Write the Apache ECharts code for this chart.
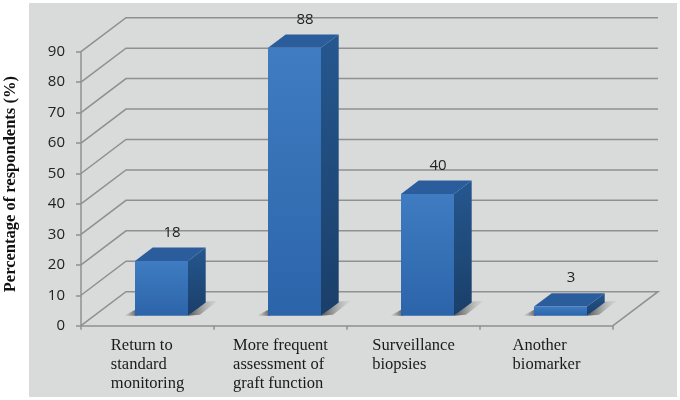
<!DOCTYPE html>
<html>
<head>
    <meta charset="UTF-8">
    <title>ECharts</title>
    <script src="https://cdn.jsdelivr.net/npm/echarts@6/dist/echarts.min.js"></script>
    <style>
        html, body {margin: 0; padding: 0; background: #fff;}
    </style>
</head>
<body>
    <div id="main" style="width: 680px;height:400px;"></div>
    <script type="text/javascript">
    var categories = ['Return to\nstandard\nmonitoring', 'More frequent\nassessment of\ngraft function', 'Surveillance\nbiopsies', 'Another\nbiomarker'];
    var values = [18, 88, 40, 3];
    var gridValues = [0, 10, 20, 30, 40, 50, 60, 70, 80, 90];
    var yName = 'Percentage of respondents (%)';

    var lineGrey = '#8f9090';
    var panelGrey = '#d9dada';
    var numberFont = '"Open Sans"';

    // fake 3d depth, in pixels
    var wallDx = 45, wallDy = 34;
    var barDx = 17.7, barDy = 13.3;
    var floorDx = 14, floorDy = 10;
    var barWidth = 53;

    function gradient(x2, y2, stops) {
        return {type: 'linear', x: 0, y: 0, x2: x2, y2: y2, colorStops: stops.map(function (c, i) {
            return {offset: i / (stops.length - 1), color: c};
        })};
    }

    function renderWall(params, api) {
        var rect = params.coordSys;
        var y = api.coord([0, api.value(0)])[1];
        var left = rect.x, right = rect.x + rect.width;
        var points = [[left, y], [left + wallDx, y - wallDy], [right + wallDx, y - wallDy]];
        // the floor also has its right edge
        if (api.value(0) === 0) {
            points = [[left, y], [left + wallDx, y - wallDy], [right + wallDx, y - wallDy], [right, y]];
        }
        return {
            type: 'polyline',
            shape: {points: points},
            style: {stroke: lineGrey, lineWidth: 1.5, fill: null}
        };
    }

    function renderBar(params, api) {
        var i = api.value(0);
        var top = api.coord([i, api.value(1)]);
        var base = api.coord([i, 0]);
        var x0 = top[0] + floorDx - barWidth / 2;
        var x1 = x0 + barWidth;
        var y0 = base[1] - floorDy;
        var y1 = top[1] - floorDy;
        return {
            type: 'group',
            children: [
                {type: 'polygon', shape: {points: [[x0 - 11, y0], [x0 + 2, y0 - 7], [x0 + 2, y0]]},
                    style: {fill: gradient(1, 0, ['rgba(110,110,110,0)', 'rgba(85,85,85,0.95)'])}},
                {type: 'polygon', shape: {points: [[x1, y0], [x1 + barDx, y0 - barDy - 1], [x1 + 30, y0 - 15], [x1 + 12, y0 - 1]]},
                    style: {fill: gradient(1, 0, ['rgba(80,80,80,1)', 'rgba(170,170,170,0.1)'])}},
                {type: 'polygon', shape: {points: [[x1, y1], [x1 + barDx, y1 - barDy], [x1 + barDx, y0 - barDy], [x1, y0]]},
                    style: {fill: gradient(0, 1, ['#25578f', '#1a3f69'])}},
                {type: 'polygon', shape: {points: [[x0, y1], [x0 + barDx, y1 - barDy], [x1 + barDx, y1 - barDy], [x1, y1]]},
                    style: {fill: '#2b5d9c'}},
                {type: 'rect', shape: {x: x0, y: y1, width: barWidth, height: y0 - y1},
                    style: {fill: gradient(0, 1, ['#3f7cc1', '#2c64aa'])}},
                {type: 'text', x: x0 + barWidth / 2 + 10.5, y: y1 - 28.5,
                    style: {text: String(api.value(1)), fill: '#222', font: '15px ' + numberFont, align: 'center', verticalAlign: 'middle'}}
            ]
        };
    }

    var option = {
        backgroundColor: '#fff',
        animation: false,
        graphic: [{
            type: 'rect', z: -10, silent: true,
            shape: {x: 29, y: 3, width: 648, height: 394},
            style: {fill: panelGrey}
        }],
        grid: {left: 81, right: 67, top: 51.7, bottom: 74.3, outerBoundsMode: 'none'},
        xAxis: {
            type: 'category',
            data: categories,
            axisLine: {lineStyle: {color: lineGrey, width: 1.5}},
            axisTick: {show: true, length: 4, lineStyle: {color: lineGrey, width: 1.5}},
            axisLabel: {
                interval: 0,
                margin: 10,
                formatter: function (v) {
                    return v.split('\n').map(function (s) { return '{a|' + s + '}'; }).join('\n');
                },
                rich: {a: {align: 'left', color: '#1a1a1a', fontFamily: '"Liberation Serif"', fontSize: 16.5, lineHeight: 19}}
            }
        },
        yAxis: {
            type: 'value',
            min: 0,
            max: 90,
            interval: 10,
            name: yName,
            nameLocation: 'middle',
            nameGap: 62,
            nameTextStyle: {color: '#111', fontFamily: '"Liberation Serif"', fontWeight: 'bold', fontSize: 16.5, padding: [0, 0, 0, 9]},
            axisLine: {show: true, lineStyle: {color: lineGrey, width: 1.5}},
            axisTick: {show: true, length: 5, lineStyle: {color: lineGrey, width: 1.5}},
            axisLabel: {margin: 16, color: '#222', fontFamily: numberFont, fontSize: 15},
            splitLine: {show: false}
        },
        series: [
            {type: 'custom', name: 'wall', renderItem: renderWall, silent: true,
                data: gridValues.map(function (v) { return [v]; }), encode: {y: 0}, z: 1},
            {type: 'custom', name: 'bars', renderItem: renderBar, silent: true,
                data: values.map(function (v, i) { return [i, v]; }), encode: {x: 0, y: 1}, z: 2}
        ]
    };

    var myChart = echarts.init(document.getElementById('main'), null, {renderer: 'canvas'});
    myChart.setOption(option);
    </script>
</body>
</html>
